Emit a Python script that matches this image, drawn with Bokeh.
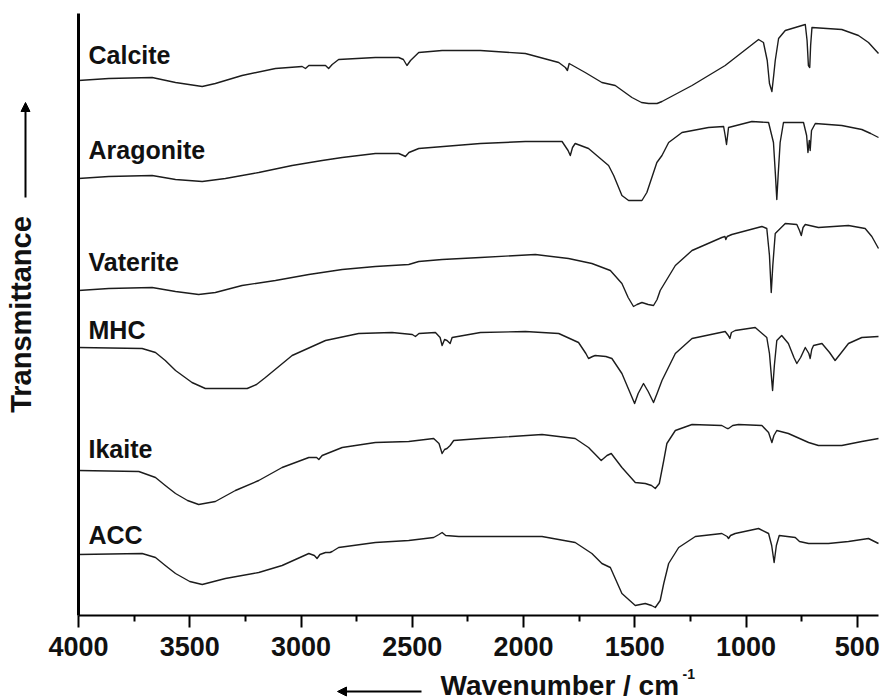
from bokeh.plotting import figure
from bokeh.models import Range1d, FixedTicker, Label, Arrow, NormalHead, ColumnDataSource
from bokeh.core.properties import value
from bokeh.embed import file_html
from bokeh.resources import INLINE

FONT = "Liberation Sans"

# ---- data: (wavenumber / cm-1, stacked transmittance, arbitrary units) ----
calcite = [(4000, 535), (3864, 537), (3669, 538), (3564, 533), (3444, 529), (3385, 532), (3265, 540),
           (3115, 547), (2995, 549), (2980, 547), (2965, 550), (2890, 550), (2876, 547), (2860, 551),
           (2831, 556), (2666, 558), (2561, 558), (2540, 556), (2524, 550), (2508, 555), (2471, 563),
           (2366, 565), (2194, 565), (1992, 562), (1842, 553), (1812, 548), (1803, 545), (1795, 552),
           (1723, 543), (1648, 533), (1588, 530), (1513, 518), (1470, 513), (1438, 512), (1400, 512),
           (1378, 514), (1243, 530), (1094, 550), (944, 576), (922, 573), (905, 555), (895, 532),
           (884, 524), (876, 540), (869, 555), (854, 577), (824, 585), (734, 591), (726, 575),
           (720, 550), (714, 548), (710, 570), (704, 588), (570, 586), (495, 580), (450, 573),
           (405, 562)]

aragonite = [(4000, 437), (3864, 439), (3669, 440), (3564, 436), (3444, 434), (3340, 437), (3190, 443),
             (3040, 450), (2905, 455), (2815, 458), (2666, 462), (2561, 462), (2540, 460), (2531, 459),
             (2515, 463), (2471, 467), (2194, 472), (1992, 474), (1827, 474), (1800, 465), (1790, 460),
             (1780, 468), (1768, 472), (1708, 467), (1618, 450), (1595, 440), (1558, 420), (1528, 415),
             (1468, 415), (1446, 423), (1401, 453), (1378, 460), (1348, 473), (1288, 483), (1169, 488),
             (1101, 489), (1094, 480), (1088, 471), (1082, 482), (1079, 488), (974, 494), (899, 493),
             (877, 473), (868, 440), (862, 416), (856, 440), (847, 473), (832, 493), (742, 493),
             (728, 480), (722, 463), (716, 475), (712, 465), (706, 485), (689, 492), (570, 490),
             (480, 486), (440, 482), (405, 478)]

vaterite = [(4000, 325), (3864, 327), (3669, 328), (3564, 324), (3460, 321), (3385, 323), (3265, 330),
            (3115, 335), (2965, 341), (2815, 346), (2666, 349), (2516, 351), (2471, 354), (2366, 356),
            (2194, 358), (1947, 361), (1798, 357), (1693, 352), (1610, 345), (1558, 332), (1530, 318),
            (1506, 309), (1490, 311), (1468, 313), (1440, 311), (1416, 310), (1400, 316), (1386, 325),
            (1318, 350), (1243, 365), (1109, 378), (1095, 379), (1091, 376), (1085, 379), (1064, 381),
            (929, 389), (907, 387), (895, 360), (887, 323), (880, 350), (869, 382), (824, 392),
            (772, 391), (760, 385), (752, 380), (744, 388), (734, 391), (675, 388), (540, 390),
            (465, 387), (435, 379), (405, 367)]

mhc = [(4000, 268), (3714, 267), (3654, 263), (3610, 255), (3564, 245), (3490, 233), (3430, 227),
       (3242, 227), (3200, 231), (3160, 238), (3100, 249), (3040, 260), (2890, 275), (2741, 282),
       (2591, 283), (2500, 281), (2486, 279), (2470, 282), (2396, 283), (2375, 278), (2366, 270),
       (2355, 276), (2344, 275), (2330, 272), (2321, 278), (2194, 283), (1992, 284), (1842, 282),
       (1753, 273), (1720, 262), (1708, 257), (1690, 259), (1678, 260), (1630, 259), (1603, 257),
       (1558, 242), (1520, 222), (1501, 212), (1485, 222), (1461, 232), (1440, 224), (1416, 213),
       (1400, 222), (1378, 235), (1318, 262), (1243, 277), (1094, 284), (1080, 280), (1073, 277),
       (1066, 283), (1049, 285), (959, 288), (907, 278), (895, 262), (881, 225), (873, 250),
       (862, 275), (840, 280), (810, 272), (785, 258), (772, 252), (755, 258), (734, 268),
       (718, 262), (712, 257), (705, 266), (697, 270), (659, 272), (625, 263), (600, 255),
       (575, 262), (540, 272), (480, 278), (405, 279)]

ikaite = [(4000, 145), (3729, 144), (3654, 138), (3610, 130), (3564, 122), (3510, 115), (3460, 111),
          (3385, 114), (3295, 125), (3190, 135), (3085, 148), (2965, 158), (2930, 158), (2920, 156),
          (2905, 160), (2815, 168), (2666, 173), (2516, 174), (2404, 177), (2380, 172), (2366, 162),
          (2355, 166), (2344, 167), (2330, 170), (2314, 175), (2194, 177), (1917, 181), (1768, 177),
          (1708, 168), (1651, 155), (1625, 160), (1606, 162), (1558, 148), (1498, 133), (1453, 132),
          (1425, 130), (1408, 127), (1390, 132), (1370, 155), (1356, 172), (1318, 185), (1243, 191),
          (1109, 190), (1085, 187), (1079, 187), (1060, 190), (1034, 191), (929, 190), (899, 183),
          (884, 173), (875, 180), (862, 185), (810, 182), (719, 173), (675, 170), (570, 170),
          (480, 174), (405, 177)]

acc = [(4000, 61), (3714, 62), (3654, 58), (3610, 50), (3564, 42), (3500, 34), (3444, 31), (3340, 37),
       (3190, 43), (3085, 50), (2965, 62), (2940, 60), (2928, 57), (2915, 61), (2890, 63), (2870, 63),
       (2860, 64), (2831, 68), (2666, 73), (2516, 75), (2404, 78), (2380, 81), (2366, 83), (2350, 80),
       (2291, 79), (2194, 79), (1917, 79), (1768, 73), (1693, 62), (1648, 52), (1610, 48), (1558, 22),
       (1498, 10), (1453, 12), (1425, 10), (1408, 8), (1386, 15), (1370, 32), (1348, 52), (1303, 68),
       (1228, 79), (1109, 82), (1085, 79), (1079, 77), (1070, 80), (1049, 82), (944, 87), (899, 82),
       (885, 70), (874, 53), (864, 70), (851, 80), (779, 78), (760, 74), (719, 72), (630, 72),
       (540, 74), (450, 77), (405, 72)]

names = ["Calcite", "Aragonite", "Vaterite", "MHC", "Ikaite", "ACC"]
spectra = [calcite, aragonite, vaterite, mhc, ikaite, acc]
label_y = [561, 466, 354, 286, 167, 81]

x_ticks = [4000, 3500, 3000, 2500, 2000, 1500, 1000, 500]
x_minor = [3750, 3250, 2750, 2250, 1750, 1250, 750]

X_START, X_END = 4000, 405       # wavenumber span of the axis
Y_TOP = 602                      # top of the y axis (arbitrary units)

# ---- layout (pixels) ----
W, H = 881, 700
AX_LEFT, AX_RIGHT, AX_TOP, AX_BOTTOM = 78, 878, 13, 615
ppu = (AX_RIGHT - AX_LEFT) / (X_START - X_END)          # px per cm-1
x_lo = X_START + AX_LEFT / ppu
x_hi = X_END - (W - AX_RIGHT) / ppu
ppy = (AX_BOTTOM - AX_TOP) / Y_TOP
y_lo = -(H - AX_BOTTOM) / ppy
y_hi = Y_TOP + AX_TOP / ppy

def px_x(px):
    return X_START - (px - AX_LEFT) / ppu

def px_y(py):
    return (AX_BOTTOM - py) / ppy

p = figure(width=W, height=H, output_backend="svg", toolbar_location=None,
           x_range=Range1d(x_lo, x_hi), y_range=Range1d(y_lo, y_hi), min_border=0)
p.outline_line_color = None
p.xgrid.visible = False
p.ygrid.visible = False
p.background_fill_color = "white"
p.border_fill_color = "white"

for s in spectra:
    xs = [a for a, b in s]
    ys = [b for a, b in s]
    p.line(xs, ys, line_color="#1c1c1c", line_width=1.4, line_join="round")

src = ColumnDataSource(dict(x=[s[0][0] for s in spectra], y=label_y, t=names))
p.text(x="x", y="y", text="t", source=src, x_offset=10, text_font=value(FONT),
       text_font_style="bold", text_font_size="25px", text_baseline="middle",
       text_color="#111111")

xa = p.xaxis[0]
xa.fixed_location = 0
xa.bounds = (X_END, X_START)
xa.ticker = FixedTicker(ticks=x_ticks, minor_ticks=x_minor)
xa.major_tick_out = 12
xa.major_tick_in = 0
xa.minor_tick_out = 6
xa.minor_tick_in = 0
xa.axis_line_width = 2
xa.major_tick_line_width = 2
xa.minor_tick_line_width = 2
xa.axis_line_color = "black"
xa.major_label_text_font = FONT
xa.major_label_text_font_size = "27px"
xa.major_label_text_font_style = "bold"
xa.major_label_text_color = "#111111"
xa.major_label_standoff = 9

ya = p.yaxis[0]
ya.fixed_location = X_START
ya.bounds = (0, Y_TOP)
ya.ticker = FixedTicker(ticks=[])
ya.axis_line_width = 3
ya.axis_line_color = "black"
ya.major_tick_out = 0
ya.minor_tick_out = 0
ya.axis_label = "Transmittance"
ya.axis_label_text_font = FONT
ya.axis_label_text_font_size = "29px"
ya.axis_label_text_font_style = "bold"
ya.axis_label_text_color = "#111111"
ya.axis_label_standoff = 42

head = dict(size=9, fill_color="black", line_color="black")
p.add_layout(Arrow(end=NormalHead(**head), x_start=px_x(25), y_start=px_y(197),
                   x_end=px_x(25), y_end=px_y(102), line_width=2, line_color="black"))
p.add_layout(Arrow(end=NormalHead(**head), x_start=px_x(421), y_start=px_y(691),
                   x_end=px_x(337), y_end=px_y(691), line_width=2, line_color="black"))

p.add_layout(Label(x=px_x(440), y=px_y(685), text="Wavenumber / cm", text_font=FONT,
                   text_font_size="28px", text_font_style="bold", text_baseline="middle",
                   text_color="#111111"))
p.add_layout(Label(x=px_x(440), y=px_y(673), x_offset=242, text="-1", text_font=FONT,
                   text_font_size="14px", text_font_style="bold", text_baseline="middle",
                   text_color="#111111"))

open("out.html", "w").write(file_html(p, INLINE))
